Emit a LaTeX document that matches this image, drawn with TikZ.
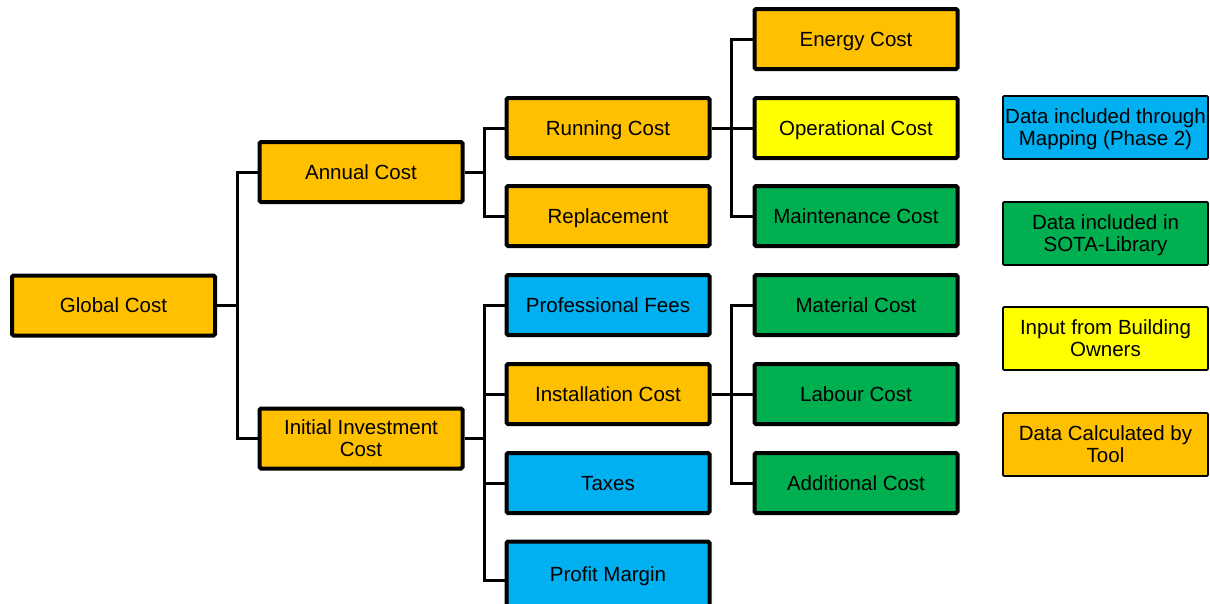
\documentclass[tikz,border=0pt]{standalone}
\usepackage{fontspec}
\setmainfont{Liberation Sans}
\definecolor{calcorange}{HTML}{FFC000}
\definecolor{inputyellow}{HTML}{FFFF00}
\definecolor{mapblue}{HTML}{00B0F0}
\definecolor{sotagreen}{HTML}{00B050}
\begin{document}
\begin{tikzpicture}[x=1pt,y=-1pt,
  costbox/.style={draw=black,line width=4pt,rounded corners=1.5pt,
    minimum width=203pt,minimum height=60pt,inner sep=0pt,align=center,
    text depth=0pt,font=\fontsize{20.5}{22}\selectfont},
  keybox/.style={draw=black,line width=1.6pt,rounded corners=1pt,
    minimum width=205pt,minimum height=63pt,inner sep=0pt,align=center,
    text depth=0pt,font=\fontsize{20.5}{22}\selectfont},
  link/.style={draw=black,line width=3pt}]
\useasboundingbox (0,0) rectangle (1210,603);
% tree of cost items
\node[costbox,fill=calcorange] (global) at (113.5,305.5) {Global Cost};
\node[costbox,fill=calcorange] (annual) at (361,172) {Annual Cost};
\node[costbox,fill=calcorange] (initial) at (361,438.5) {Initial Investment\\Cost};
\node[costbox,fill=calcorange] (running) at (608,128) {Running Cost};
\node[costbox,fill=calcorange] (replace) at (608,216) {Replacement};
\node[costbox,fill=mapblue] (fees) at (608,305) {Professional Fees};
\node[costbox,fill=calcorange] (install) at (608,394) {Installation Cost};
\node[costbox,fill=mapblue] (taxes) at (608,483) {Taxes};
% the last box runs off the lower edge of the page
\node[costbox,fill=mapblue,minimum height=70pt] (profit) at (608,576.5) {\raisebox{4pt}{Profit Margin}};
\node[costbox,fill=calcorange] (energy) at (856,39) {Energy Cost};
\node[costbox,fill=inputyellow] (oper) at (856,128) {Operational Cost};
\node[costbox,fill=sotagreen] (maint) at (856,216) {Maintenance Cost};
\node[costbox,fill=sotagreen] (material) at (856,305) {Material Cost};
\node[costbox,fill=sotagreen] (labour) at (856,394) {Labour Cost};
\node[costbox,fill=sotagreen] (additional) at (856,483) {Additional Cost};
% colour key
\node[keybox,fill=mapblue] (kmap) at (1105.5,127.5) {Data included through\\Mapping (Phase 2)};
\node[keybox,fill=sotagreen] (ksota) at (1105.5,233.5) {Data included in\\SOTA-Library};
\node[keybox,fill=inputyellow] (kinput) at (1105.5,338.5) {Input from Building\\Owners};
\node[keybox,fill=calcorange] (kcalc) at (1105.5,444.5) {Data Calculated by\\Tool};
% elbow connectors
\foreach \child in {annual,initial}
  \draw[link] (global.east) -- ++(20,0) |- (\child.west);
\foreach \child in {running,replace}
  \draw[link] (annual.east) -- ++(20,0) |- (\child.west);
\foreach \child in {fees,install,taxes}
  \draw[link] (initial.east) -- ++(20,0) |- (\child.west);
\draw[link] (initial.east) -- ++(20,0) |- ([yshift=-4pt]profit.west);
\foreach \child in {energy,oper,maint}
  \draw[link] (running.east) -- ++(20,0) |- (\child.west);
\foreach \child in {material,labour,additional}
  \draw[link] (install.east) -- ++(20,0) |- (\child.west);
\end{tikzpicture}
\end{document}
